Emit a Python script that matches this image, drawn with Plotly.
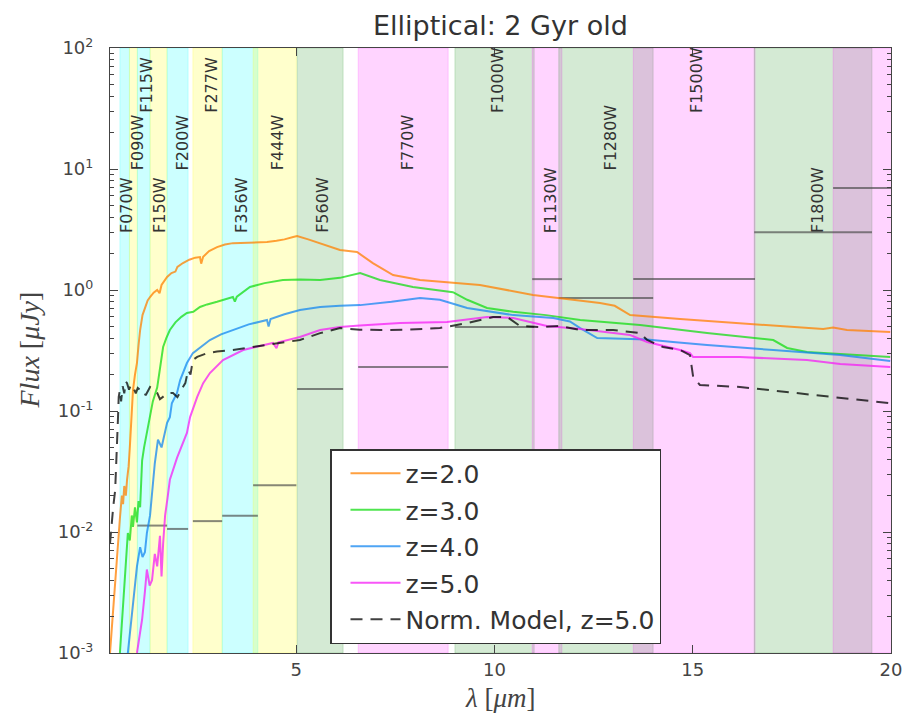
import math
import plotly.graph_objects as go

# ---------------- data ----------------
filter_names = ["F070W", "F090W", "F115W", "F150W", "F200W", "F277W", "F356W", "F444W",
                "F560W", "F770W", "F1000W", "F1130W", "F1280W", "F1500W", "F1800W", "F2100W"]
band_lo = [0.55, 0.79, 0.99, 1.31, 1.74, 2.39, 3.13, 3.91,
           5.02, 6.56, 9.00, 10.95, 11.62, 13.50, 16.55, 18.54]
band_hi = [0.79, 0.99, 1.31, 1.74, 2.27, 3.13, 4.03, 5.00,
           6.18, 8.83, 11.00, 11.70, 14.00, 16.57, 19.52, 23.2]
band_kind = ["cyan", "yellow", "cyan", "yellow", "cyan", "yellow", "cyan", "yellow",
             "green", "magenta", "green", "magenta", "green", "magenta", "green", "magenta"]
label_x = [0.73, 0.98, 1.23, 1.56, 2.12, 2.87, 3.63, 4.51,
           5.67, 7.79, 10.09, 11.43, 12.92, 15.11, 18.16, 21.1]
label_y = [2.85, 9.4, 28, 2.85, 9.4, 28, 2.85, 9.4,
           2.85, 9.4, 28, 2.85, 9.4, 28, 2.85, 9.4]
limit_flux = [None, None, 0.0113, 0.0113, 0.0106, 0.0123, 0.0136, 0.0244,
              0.152, 0.231, 0.494, 1.23, 0.86, 1.23, 3.0, 6.97]

y_tickvals = [0.001, 0.01, 0.1, 1, 10, 100]
y_ticktext = ["10<sup>-3</sup>", "10<sup>-2</sup>", "10<sup>-1</sup>",
              "10<sup>0</sup>", "10<sup>1</sup>", "10<sup>2</sup>"]
x_tickvals = [5, 10, 15, 20]

orange_wl = [0.30, 0.36, 0.43, 0.50, 0.55, 0.60, 0.63, 0.66, 0.70, 0.73, 0.77, 0.80, 0.85, 0.88,
             0.93, 0.98, 1.02, 1.06, 1.12, 1.18, 1.25, 1.31, 1.40, 1.49, 1.55, 1.60, 1.74, 1.85,
             1.95, 2.00, 2.14, 2.30, 2.45, 2.57, 2.60, 2.65, 2.80, 3.00, 3.20, 3.40, 3.70, 4.00,
             4.26, 4.50, 4.70, 4.92, 5.02, 5.30, 5.60, 6.10, 6.53, 6.93, 7.44, 8.12, 8.80, 9.63,
             10.97, 11.90, 12.66, 13.03, 13.42, 14.68, 16.19, 17.70, 18.29, 18.54, 18.89, 19.98]
orange_flux = [0.0010, 0.0019, 0.0036, 0.0086, 0.013, 0.020, 0.017, 0.024, 0.020, 0.027, 0.035,
               0.050, 0.095, 0.149, 0.20, 0.25, 0.35, 0.467, 0.62, 0.72, 0.82, 0.875, 0.95, 1.00,
               0.94, 1.10, 1.28, 1.38, 1.42, 1.55, 1.67, 1.78, 1.85, 1.87, 1.65, 1.88, 2.10, 2.26,
               2.38, 2.44, 2.45, 2.47, 2.49, 2.55, 2.62, 2.74, 2.79, 2.62, 2.44, 2.14, 2.06, 1.67,
               1.33, 1.21, 1.16, 1.10, 0.91, 0.83, 0.78, 0.74, 0.62, 0.575, 0.533, 0.494, 0.476,
               0.49, 0.467, 0.45]

green_wl = [0.55, 0.62, 0.68, 0.75, 0.80, 0.85, 0.88, 0.93, 0.98, 1.02, 1.06, 1.11, 1.16, 1.23,
            1.31, 1.38, 1.49, 1.56, 1.64, 1.72, 1.81, 1.95, 2.10, 2.24, 2.40, 2.57, 2.75, 3.00,
            3.20, 3.40, 3.45, 3.50, 3.83, 4.20, 4.66, 5.10, 5.60, 6.10, 6.61, 7.11, 7.94, 8.95,
            9.31, 9.81, 10.47, 11.30, 12.16, 13.67, 15.36, 16.52, 17.03, 17.38, 17.88, 19.98]
green_flux = [0.001, 0.0022, 0.0036, 0.0098, 0.0085, 0.0137, 0.011, 0.016, 0.012, 0.018, 0.016,
              0.039, 0.05, 0.066, 0.089, 0.12, 0.156, 0.22, 0.338, 0.40, 0.467, 0.54, 0.60, 0.645,
              0.66, 0.724, 0.76, 0.80, 0.84, 0.875, 0.80, 0.88, 1.06, 1.14, 1.21, 1.22, 1.21, 1.26,
              1.38, 1.21, 1.06, 0.96, 0.83, 0.71, 0.66, 0.62, 0.565, 0.514, 0.441, 0.40, 0.386,
              0.332, 0.308, 0.279]

blue_wl = [0.75, 0.85, 0.92, 0.98, 1.06, 1.12, 1.18, 1.23, 1.31, 1.36, 1.43, 1.51, 1.60, 1.74,
           1.81, 1.86, 1.99, 2.07, 2.24, 2.39, 2.60, 2.82, 3.10, 3.40, 3.80, 4.26, 4.30, 4.35,
           4.70, 5.09, 5.60, 6.10, 6.61, 7.40, 8.12, 8.62, 9.31, 10.47, 11.48, 11.90, 12.16,
           12.59, 13.85, 14.50, 15.36, 17.03, 18.72, 19.98]
blue_flux = [0.001, 0.0021, 0.0035, 0.0052, 0.0075, 0.0062, 0.0068, 0.0098, 0.0137, 0.022, 0.037,
             0.058, 0.050, 0.08, 0.089, 0.116, 0.141, 0.18, 0.249, 0.301, 0.34, 0.386, 0.43,
             0.467, 0.52, 0.565, 0.50, 0.575, 0.63, 0.684, 0.724, 0.74, 0.75, 0.80, 0.86, 0.83,
             0.71, 0.62, 0.587, 0.55, 0.485, 0.401, 0.39, 0.372, 0.351, 0.319, 0.29, 0.259]

magenta_wl = [0.98, 1.05, 1.11, 1.18, 1.23, 1.30, 1.36, 1.43, 1.49, 1.56, 1.60, 1.64, 1.69, 1.75,
              1.81, 1.99, 2.24, 2.32, 2.50, 2.65, 2.82, 3.15, 3.40, 3.66, 4.00, 4.41, 4.50, 4.55,
              5.09, 5.60, 6.10, 6.60, 7.62, 8.80, 9.81, 10.47, 11.32, 12.16, 13.42, 13.85, 14.68,
              14.93, 15.01, 16.19, 17.88, 18.72, 19.98]
magenta_flux = [0.001, 0.0014, 0.0019, 0.0032, 0.0049, 0.0036, 0.0040, 0.0066, 0.0052, 0.0093,
                0.0043, 0.0080, 0.0137, 0.019, 0.027, 0.041, 0.066, 0.089, 0.131, 0.17, 0.206,
                0.264, 0.29, 0.319, 0.34, 0.365, 0.33, 0.37, 0.409, 0.467, 0.494, 0.51, 0.533,
                0.544, 0.598, 0.587, 0.504, 0.476, 0.425, 0.372, 0.319, 0.301, 0.279, 0.279,
                0.264, 0.245, 0.231]

model_wl = [0.30, 0.34, 0.38, 0.43, 0.46, 0.48, 0.50, 0.52, 0.55, 0.58, 0.62, 0.66, 0.70, 0.73,
            0.78, 0.83, 0.88, 0.95, 1.00, 1.06, 1.13, 1.20, 1.31, 1.40, 1.49, 1.56, 1.64, 1.75,
            1.89, 2.00, 2.14, 2.20, 2.27, 2.33, 2.39, 2.50, 2.75, 3.00, 3.40, 3.80, 4.26, 4.70,
            5.09, 5.60, 6.10, 6.60, 7.11, 7.80, 8.62, 9.31, 9.96, 10.32, 10.64, 11.15, 11.65,
            12.16, 12.99, 13.67, 13.85, 14.25, 14.68, 14.93, 15.01, 15.18, 16.19, 17.88, 19.98]
model_flux = [0.008, 0.012, 0.016, 0.022, 0.035, 0.050, 0.085, 0.131, 0.149, 0.12, 0.16, 0.14,
              0.175, 0.17, 0.15, 0.165, 0.158, 0.14, 0.155, 0.149, 0.15, 0.135, 0.158, 0.15,
              0.141, 0.125, 0.131, 0.14, 0.141, 0.13, 0.158, 0.17, 0.218, 0.20, 0.264, 0.28,
              0.301, 0.31, 0.319, 0.335, 0.351, 0.37, 0.386, 0.44, 0.485, 0.47, 0.467, 0.47,
              0.485, 0.533, 0.598, 0.598, 0.504, 0.494, 0.504, 0.467, 0.467, 0.441, 0.386, 0.338,
              0.319, 0.29, 0.191, 0.164, 0.158, 0.138, 0.116]

series = [
    ("z=2.0", orange_wl, orange_flux, "rgba(255,128,0,0.75)", "solid"),
    ("z=3.0", green_wl, green_flux, "rgba(20,220,20,0.75)", "solid"),
    ("z=4.0", blue_wl, blue_flux, "rgba(20,135,240,0.75)", "solid"),
    ("z=5.0", magenta_wl, magenta_flux, "rgba(245,30,245,0.75)", "solid"),
    ("Norm. Model, z=5.0", model_wl, model_flux, "rgba(0,0,0,0.75)", "12px,8px"),
]

band_colors = {
    "cyan": "rgba(0,255,255,0.2)",
    "yellow": "rgba(255,255,0,0.2)",
    "green": "rgba(0,128,0,0.17)",
    "magenta": "rgba(255,0,255,0.17)",
}

# ---------------- figure ----------------
fig = go.Figure()

shapes = []
for lo, hi, kind in zip(band_lo, band_hi, band_kind):
    shapes.append(dict(type="rect", xref="x", yref="paper", x0=lo, x1=hi, y0=0, y1=1,
                       fillcolor=band_colors[kind], line=dict(color=band_colors[kind], width=1),
                       layer="below"))

# flux-limit segments
lx, ly = [], []
for lo, hi, v in zip(band_lo, band_hi, limit_flux):
    if v is None:
        continue
    lx += [lo, hi, None]
    ly += [v, v, None]
fig.add_trace(go.Scatter(x=lx, y=ly, mode="lines", showlegend=False, hoverinfo="skip",
                         line=dict(color="rgba(70,70,70,0.65)", width=2)))

for i, (name, wl, fl, col, dash) in enumerate(series):
    fig.add_trace(go.Scatter(x=wl, y=fl, mode="lines", name=name, legendgroup=f"g{i}",
                             line=dict(color=col, width=2, dash=dash)))

annotations = []
for nm, xc, yb in zip(filter_names, label_x, label_y):
    if xc > 20:
        continue
    annotations.append(dict(x=xc, y=math.log10(yb), xref="x", yref="y", text=nm,
                            textangle=-90, showarrow=False, xanchor="center", yanchor="bottom",
                            font=dict(family="DejaVu Sans", size=16, color="#333333")))

annotations.append(dict(text="Elliptical: 2 Gyr old", xref="paper", yref="paper", x=0.5,
                        y=(653 - 26) / 605, xanchor="center", yanchor="middle", showarrow=False,
                        font=dict(family="DejaVu Sans", size=27, color="#333333")))
annotations.append(dict(text="<i>Flux</i> [<i>μJy</i>]", xref="paper", yref="paper",
                        x=(29 - 110) / 781, y=0.5, xanchor="center", yanchor="middle",
                        textangle=-90, showarrow=False,
                        font=dict(family="Liberation Serif", size=28, color="#444444")))
annotations.append(dict(text="<i>λ</i> [<i>μm</i>]", xref="paper", yref="paper",
                        x=0.5, y=(653 - 698) / 605, xanchor="center", yanchor="middle",
                        showarrow=False,
                        font=dict(family="Liberation Serif", size=27, color="#444444")))

fig.update_layout(
    width=904, height=718, autosize=False,
    margin=dict(l=110, r=13, t=48, b=65, autoexpand=False),
    paper_bgcolor="white", plot_bgcolor="white",
    shapes=shapes, annotations=annotations,
    showlegend=True,
    legend=dict(x=(330 - 110) / 781, y=(653 - 449) / 605, xanchor="left", yanchor="top",
                bgcolor="white", bordercolor="#333333", borderwidth=1.5,
                font=dict(family="DejaVu Sans", size=25, color="#333333"),
                tracegroupgap=1, itemwidth=50, indentation=14),
    xaxis=dict(range=[0.3, 20], tickvals=x_tickvals, ticks="inside", ticklen=8,
               tickcolor="#444444", showline=True, linecolor="#444444", linewidth=1.2,
               mirror="ticks", showgrid=False, zeroline=False, automargin=False,
               tickfont=dict(family="DejaVu Sans", size=18, color="#444444")),
    yaxis=dict(type="log", range=[-3, 2], tickvals=y_tickvals, ticktext=y_ticktext,
               ticks="inside", ticklen=8, tickcolor="#444444", showline=True,
               linecolor="#444444", linewidth=1.2, mirror="ticks", showgrid=False,
               zeroline=False, automargin=False, ticklabelstandoff=12,
               minor=dict(ticks="inside", ticklen=4, dtick="D1", tickcolor="#444444",
                          showgrid=False),
               tickfont=dict(family="DejaVu Sans", size=18, color="#444444")),
)

fig.write_html("out.html", config={"displayModeBar": False},
               post_script="document.body.style.margin='0px';")
